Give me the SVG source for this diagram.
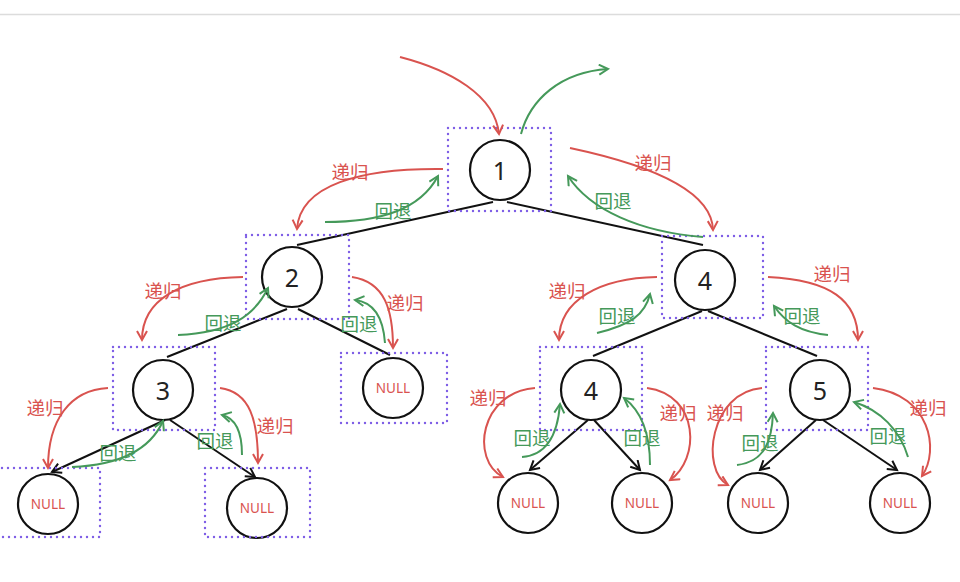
<svg xmlns="http://www.w3.org/2000/svg" width="960" height="582" viewBox="0 0 960 582">
<style>
.node circle{fill:#fff;stroke:#111;stroke-width:2.2}
.num{font-family:"Noto Sans","DejaVu Sans",sans-serif;font-size:25px;fill:#222;text-anchor:middle;dominant-baseline:central}
.null{font-family:"Noto Sans","DejaVu Sans",sans-serif;font-size:13.5px;fill:#d9534f;text-anchor:middle;dominant-baseline:central}
.box{fill:none;stroke:#7f5fe6;stroke-width:2.4;stroke-dasharray:0 6;stroke-linecap:round}
.edge{fill:none;stroke:#111;stroke-width:2}
.rec{fill:none;stroke:#d9534f;stroke-width:2}
.back{fill:none;stroke:#45995a;stroke-width:2}
.lr{font-family:"Noto Sans CJK SC","Noto Sans",sans-serif;font-size:18.5px;fill:#d9534f;text-anchor:middle;dominant-baseline:central}
.lg{font-family:"Noto Sans CJK SC","Noto Sans",sans-serif;font-size:18.5px;fill:#45995a;text-anchor:middle;dominant-baseline:central}
</style>
<defs>
<marker id="ak" markerUnits="userSpaceOnUse" markerWidth="14" markerHeight="14" refX="10" refY="6" orient="auto"><path d="M1,1 L10,6 L1,11" fill="none" stroke="#111" stroke-width="2"/></marker>
<marker id="ar" markerUnits="userSpaceOnUse" markerWidth="14" markerHeight="14" refX="10" refY="6" orient="auto"><path d="M1,1 L10,6 L1,11" fill="none" stroke="#d9534f" stroke-width="2"/></marker>
<marker id="ag" markerUnits="userSpaceOnUse" markerWidth="14" markerHeight="14" refX="10" refY="6" orient="auto"><path d="M1,1 L10,6 L1,11" fill="none" stroke="#45995a" stroke-width="2"/></marker>
</defs>
<rect width="960" height="582" fill="#fff"/>
<line x1="0" y1="14.5" x2="960" y2="14.5" stroke="#dcdcdc" stroke-width="1.5"/>

<g id="edges">
<path class="edge" d="M493,202 L297,245"/>
<path class="edge" d="M507,202 L703,245"/>
<path class="edge" d="M287,309 L167,357"/>
<path class="edge" d="M298,309 L390,355"/>
<path class="edge" d="M165,420 L52,472" marker-end="url(#ak)"/>
<path class="edge" d="M170,420 L255,477" marker-end="url(#ak)"/>
<path class="edge" d="M702,311 L593,356"/>
<path class="edge" d="M708,311 L817,356"/>
<path class="edge" d="M588,420 L530,470" marker-end="url(#ak)"/>
<path class="edge" d="M594,420 L640,470" marker-end="url(#ak)"/>
<path class="edge" d="M816,420 L760,470" marker-end="url(#ak)"/>
<path class="edge" d="M823,420 L897,470" marker-end="url(#ak)"/>
</g>

<g id="n1" class="node"><circle cx="500" cy="170" r="30"/><text class="num" x="500" y="170">1</text><rect class="box" x="448" y="128" width="103" height="83"/></g>
<g id="n2" class="node"><circle cx="292" cy="277" r="30"/><text class="num" x="292" y="277">2</text><rect class="box" x="246" y="235" width="103" height="84"/></g>
<g id="n3" class="node"><circle cx="163" cy="390" r="30"/><text class="num" x="163" y="390">3</text><rect class="box" x="113" y="347" width="102" height="83"/></g>
<g id="n2null" class="node"><circle cx="393" cy="388" r="30"/><text class="null" x="393" y="388">NULL</text><rect class="box" x="341" y="353" width="106" height="70"/></g>
<g id="n3nullL" class="node"><circle cx="48" cy="504" r="30"/><text class="null" x="48" y="504">NULL</text><rect class="box" x="-4" y="468" width="104" height="69"/></g>
<g id="n3nullR" class="node"><circle cx="257" cy="508" r="30"/><text class="null" x="257" y="508">NULL</text><rect class="box" x="205" y="468" width="105" height="69"/></g>
<g id="n4" class="node"><circle cx="705" cy="280" r="30"/><text class="num" x="705" y="280">4</text><rect class="box" x="662" y="236" width="101" height="82"/></g>
<g id="n4b" class="node"><circle cx="591" cy="390" r="30"/><text class="num" x="591" y="390">4</text><rect class="box" x="540" y="347" width="102" height="83"/></g>
<g id="n5" class="node"><circle cx="820" cy="390" r="30"/><text class="num" x="820" y="390">5</text><rect class="box" x="766" y="347" width="102" height="83"/></g>
<g id="n4nullL" class="node"><circle cx="528" cy="503" r="30"/><text class="null" x="528" y="503">NULL</text></g>
<g id="n4nullR" class="node"><circle cx="642" cy="503" r="30"/><text class="null" x="642" y="503">NULL</text></g>
<g id="n5nullL" class="node"><circle cx="758" cy="503" r="30"/><text class="null" x="758" y="503">NULL</text></g>
<g id="n5nullR" class="node"><circle cx="900" cy="503" r="30"/><text class="null" x="900" y="503">NULL</text></g>

<g id="traversal">
<path class="rec" d="M400,57 C450,70 495,95 499,134" marker-end="url(#ar)"/>
<path class="back" d="M521,134 C530,100 560,72 608,69" marker-end="url(#ag)"/>

<path class="rec" d="M443,169 C360,168 300,185 297,229" marker-end="url(#ar)"/>
<path class="back" d="M325,222 C380,222 420,210 438,176" marker-end="url(#ag)"/>
<path class="rec" d="M570,148 C650,165 712,190 713,230" marker-end="url(#ar)"/>
<path class="back" d="M703,237 C640,232 590,210 568,176" marker-end="url(#ag)"/>

<path class="rec" d="M243,277 C180,278 142,300 142,340" marker-end="url(#ar)"/>
<path class="back" d="M178,335 C230,333 255,315 268,288" marker-end="url(#ag)"/>
<path class="rec" d="M352,277 C385,282 393,310 393,348" marker-end="url(#ar)"/>
<path class="back" d="M385,343 C383,315 372,302 355,300" marker-end="url(#ag)"/>

<path class="rec" d="M108,388 C70,390 48,420 48,468" marker-end="url(#ar)"/>
<path class="back" d="M72,467 C120,465 150,450 163,421" marker-end="url(#ag)"/>
<path class="rec" d="M220,388 C250,392 258,420 258,463" marker-end="url(#ar)"/>
<path class="back" d="M242,455 C242,430 235,418 222,415" marker-end="url(#ag)"/>

<path class="rec" d="M657,277 C600,278 559,300 559,340" marker-end="url(#ar)"/>
<path class="back" d="M597,333 C630,325 645,315 650,294" marker-end="url(#ag)"/>
<path class="rec" d="M768,277 C830,280 858,300 858,340" marker-end="url(#ar)"/>
<path class="back" d="M828,335 C800,332 785,322 774,306" marker-end="url(#ag)"/>

<path class="rec" d="M535,388 C480,392 470,460 503,477" marker-end="url(#ar)"/>
<path class="back" d="M522,457 C550,455 558,430 560,404" marker-end="url(#ag)"/>
<path class="rec" d="M647,388 C700,395 700,460 670,480" marker-end="url(#ar)"/>
<path class="back" d="M650,465 C650,430 640,410 624,398" marker-end="url(#ag)"/>

<path class="rec" d="M762,388 C710,392 700,470 728,485" marker-end="url(#ar)"/>
<path class="back" d="M737,465 C765,462 772,440 773,413" marker-end="url(#ag)"/>
<path class="rec" d="M873,388 C930,395 940,450 922,476" marker-end="url(#ar)"/>
<path class="back" d="M908,457 C900,430 880,410 854,402" marker-end="url(#ag)"/>
</g>

<g id="labels">
<text class="lr" x="350" y="171">递归</text>
<text class="lg" x="393" y="210">回退</text>
<text class="lr" x="653" y="162">递归</text>
<text class="lg" x="613" y="200">回退</text>
<text class="lr" x="163" y="290">递归</text>
<text class="lg" x="223" y="322">回退</text>
<text class="lr" x="405" y="302">递归</text>
<text class="lg" x="359" y="323">回退</text>
<text class="lr" x="45" y="407">递归</text>
<text class="lg" x="118" y="452">回退</text>
<text class="lr" x="275" y="425">递归</text>
<text class="lg" x="215" y="440">回退</text>
<text class="lr" x="567" y="290">递归</text>
<text class="lg" x="617" y="315">回退</text>
<text class="lr" x="832" y="273">递归</text>
<text class="lg" x="802" y="315">回退</text>
<text class="lr" x="488" y="397">递归</text>
<text class="lg" x="532" y="437">回退</text>
<text class="lr" x="678" y="412">递归</text>
<text class="lg" x="642" y="437">回退</text>
<text class="lr" x="725" y="412">递归</text>
<text class="lg" x="760" y="442">回退</text>
<text class="lr" x="928" y="407">递归</text>
<text class="lg" x="888" y="435">回退</text>
</g>
</svg>
